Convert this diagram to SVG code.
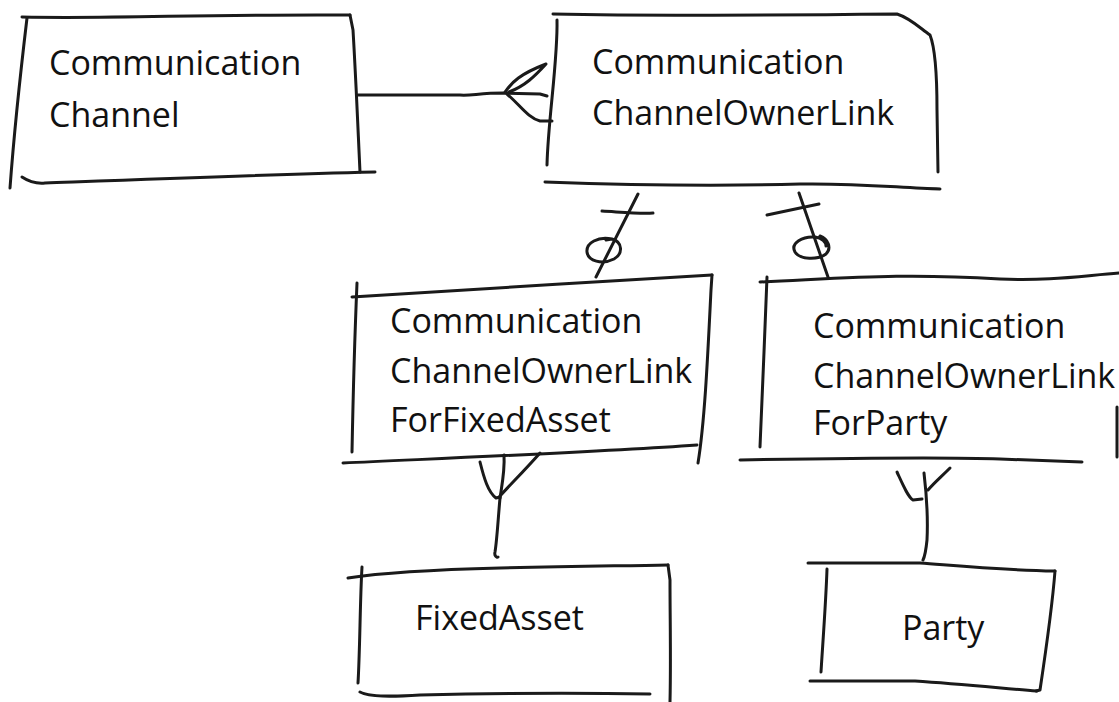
<svg xmlns="http://www.w3.org/2000/svg" width="1119" height="702" viewBox="0 0 1119 702">
<style>
.s{fill:none;stroke:#1a1a1a;stroke-width:3;stroke-linecap:round;stroke-linejoin:round}
.t{font-family:"Open Sans","Liberation Sans",sans-serif;font-size:34px;fill:#111}
</style>
<rect width="1119" height="702" fill="#fff"/>
<g id="node-communication-channel">
<path class="s" d="M22,17 C120,19 200,14 350,15"/>
<path class="s" d="M27,18 C22,60 15,120 10,188"/>
<path class="s" d="M350,15 L353,30 C356,80 358,130 360,172"/>
<path class="s" d="M22,177 C28,181 35,184 45,183 C150,179 250,175 375,172"/>
<text class="t" x="49" y="75">Communication</text>
<text class="t" x="49" y="127">Channel</text>
</g>
<g id="node-channel-owner-link">
<path class="s" d="M553,14 C650,16 800,15 897,14 C910,18 920,28 930,35 C936,50 937,80 937,110 L938,172"/>
<path class="s" d="M557,20 C558,60 548,120 547,165"/>
<path class="s" d="M545,182 C600,184 700,187 800,184 C860,183 900,188 940,189"/>
<text class="t" x="592" y="74">Communication</text>
<text class="t" x="592" y="125">ChannelOwnerLink</text>
</g>
<g id="node-link-fixed-asset">
<path class="s" d="M352,297 C450,290 600,282 712,275"/>
<path class="s" d="M357,283 C355,330 353,400 352,452"/>
<path class="s" d="M712,275 L711,290 C708,350 705,420 698,463"/>
<path class="s" d="M343,463 C450,458 600,452 697,445"/>
<text class="t" x="390" y="333">Communication</text>
<text class="t" x="390" y="383">ChannelOwnerLink</text>
<text class="t" x="390" y="432">ForFixedAsset</text>
</g>
<g id="node-link-party">
<path class="s" d="M760,282 C850,278 900,273 1000,279 C1050,281 1080,276 1119,273"/>
<path class="s" d="M767,277 C765,330 762,400 760,447"/>
<path class="s" d="M740,460 C850,458 950,457 1000,459 L1082,462"/>
<path class="s" d="M1117,407 L1117,457"/>
<text class="t" x="813" y="338">Communication</text>
<text class="t" x="813" y="388">ChannelOwnerLink</text>
<text class="t" x="813" y="435">ForParty</text>
</g>
<g id="node-fixed-asset">
<path class="s" d="M348,578 C380,573 420,570 500,568 C580,566 620,566 668,565"/>
<path class="s" d="M362,567 C360,600 360,650 358,683"/>
<path class="s" d="M668,565 L670,580 C670,620 671,660 670,702"/>
<path class="s" d="M360,692 C370,697 390,697 420,695 C500,693 600,693 650,694"/>
<text class="t" x="415" y="630">FixedAsset</text>
</g>
<g id="node-party">
<path class="s" d="M808,563 L920,563 C960,566 1000,570 1055,571"/>
<path class="s" d="M1055,571 C1052,610 1046,650 1040,690 L1036,691"/>
<path class="s" d="M827,569 C826,600 823,640 821,672"/>
<path class="s" d="M810,681 L915,681 C960,684 1000,688 1037,691"/>
<text class="t" x="902" y="640">Party</text>
</g>
<g id="connectors">
<path class="s" d="M358,95 L460,95 C470,96 480,93 503,93 L540,94 L547,96"/>
<path class="s" d="M505,92 C512,82 520,74 546,64 C535,76 525,86 509,92"/>
<path class="s" d="M507,94 C520,105 528,118 540,121 L552,121"/>
<path class="s" d="M638,194 L596,277"/>
<path class="s" d="M602,211 C620,212 640,214 653,213"/>
<path class="s" d="M612,239 C598,236 586,243 587,252 C588,261 602,265 614,259 C623,254 623,242 612,239 L606,240"/>
<path class="s" d="M799,193 L828,277"/>
<path class="s" d="M767,215 L819,204"/>
<path class="s" d="M820,236 C828,239 832,248 826,254 C818,260 800,260 795,252 C790,243 803,236 815,237 C822,238 826,242 826,246"/>
<path class="s" d="M500,498 C498,520 497,540 495,552 C494,556 497,558 498,557"/>
<path class="s" d="M480,462 C484,478 488,492 496,498 L500,497"/>
<path class="s" d="M504,455 C505,470 502,485 500,498"/>
<path class="s" d="M540,453 C525,470 510,485 500,496"/>
<path class="s" d="M897,472 C903,485 908,497 913,500 L922,499"/>
<path class="s" d="M924,473 C926,490 928,520 927,540 C926,550 925,556 923,560"/>
<path class="s" d="M950,468 C940,478 935,482 928,490"/>
</g>
</svg>
